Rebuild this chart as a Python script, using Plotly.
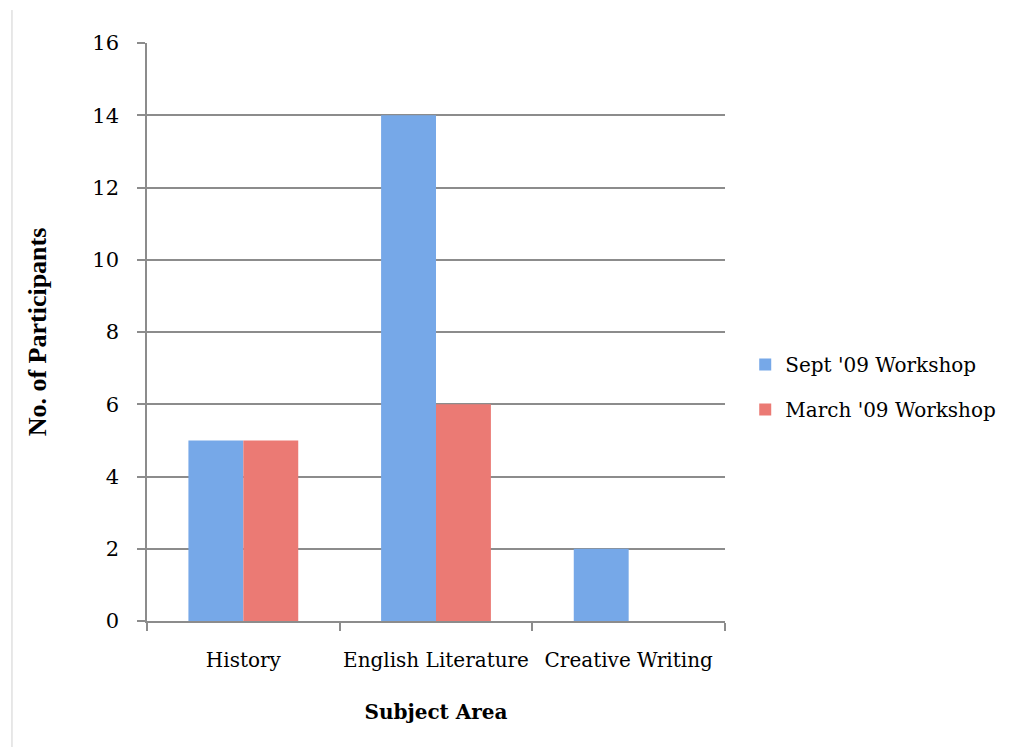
import plotly.graph_objects as go

categories = ["History", "English Literature", "Creative Writing"]
sept_values = [5, 14, 2]
march_values = [5, 6, 0]
series_names = ["Sept '09 Workshop", "March '09 Workshop"]
y_ticks = [0, 2, 4, 6, 8, 10, 12, 14, 16]

fig = go.Figure()
fig.add_trace(go.Bar(x=categories, y=sept_values, name=series_names[0],
                     legendgroup="a",
                     marker=dict(color="#76a8e8", line=dict(width=0))))
fig.add_trace(go.Bar(x=categories, y=march_values, name=series_names[1],
                     legendgroup="b",
                     marker=dict(color="#eb7a74", line=dict(width=0))))

fig.update_layout(
    width=1011, height=747,
    margin=dict(l=147, r=286, t=43, b=126, autoexpand=False),
    paper_bgcolor="white", plot_bgcolor="white",
    barmode="group", bargap=0.43, bargroupgap=0,
    font=dict(family="DejaVu Serif", size=21, color="#000"),
    showlegend=True,
    legend=dict(x=1.035, xanchor="left", y=0.405, yanchor="middle",
                traceorder="grouped", tracegroupgap=16,
                font=dict(family="DejaVu Serif", size=20, color="#000"),
                bgcolor="rgba(0,0,0,0)"),
    xaxis=dict(
        title=dict(text="<b>Subject Area</b>", standoff=34,
                   font=dict(family="DejaVu Serif", size=20)),
        showline=True, linecolor="#8c8c8c", linewidth=1.5,
        ticks="outside", tickson="boundaries", ticklen=8,
        tickcolor="#8c8c8c", tickwidth=1.5,
        showgrid=False, ticklabelstandoff=20, tickangle=0,
        automargin=False,
        tickfont=dict(size=20),
    ),
    yaxis=dict(
        title=dict(text="<b>No. of Participants</b>", standoff=38,
                   font=dict(family="Liberation Serif", size=26)),
        range=[0, 16], tickvals=y_ticks,
        showline=True, linecolor="#8c8c8c", linewidth=1.5,
        ticks="outside", ticklen=8, tickcolor="#8c8c8c", tickwidth=1.5,
        showgrid=True, gridcolor="#8c8c8c", gridwidth=1.5,
        zeroline=False, ticklabelstandoff=14, automargin=False,
        tickfont=dict(size=21),
    ),
)

fig.add_shape(type="line", xref="paper", yref="paper",
              x0=-0.2336, x1=-0.2336, y0=1.057, y1=-0.218,
              line=dict(color="#d0d0d0", width=1))

fig.write_html("out.html")
